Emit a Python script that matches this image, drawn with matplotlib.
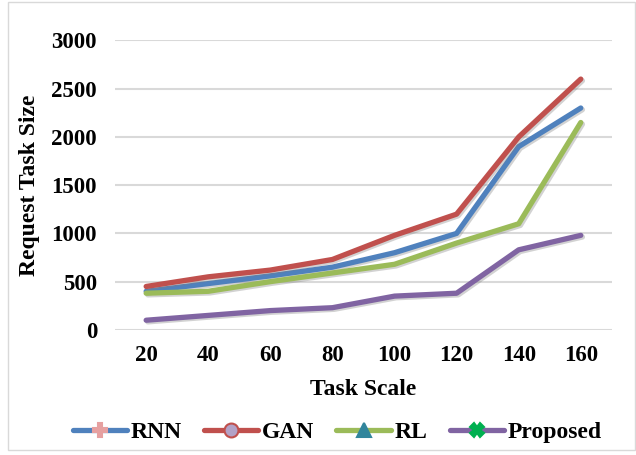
import matplotlib
matplotlib.use("Agg")
import matplotlib.pyplot as plt
import matplotlib.patheffects as pe
from matplotlib.lines import Line2D
from matplotlib.patches import Rectangle

plt.rcParams["font.family"] = ["Liberation Serif", "DejaVu Serif"]
plt.rcParams["font.weight"] = "bold"

task_scale = ["20", "40", "60", "80", "100", "120", "140", "160"]
rnn = [400, 480, 560, 650, 800, 1000, 1900, 2300]
gan = [450, 550, 620, 730, 980, 1200, 2000, 2600]
rl = [380, 400, 500, 590, 680, 900, 1100, 2150]
proposed = [100, 150, 200, 230, 350, 380, 830, 980]

series = [
    ("RNN", rnn, "#4F81BD", "P", "#E6A0A0", "#E6A0A0"),
    ("GAN", gan, "#C0504D", "o", "#B3A2C7", "#C0504D"),
    ("RL", rl, "#9BBB59", "^", "#31859C", "#31859C"),
    ("Proposed", proposed, "#8064A2", "X", "#00B050", "#00B050"),
]

fig = plt.figure(figsize=(6.36, 4.55), dpi=100)
ax = fig.add_axes([0.181, 0.275, 0.781, 0.636])

xs = list(range(len(task_scale)))
shadow = [pe.SimpleLineShadow(offset=(1.2, -1.2), shadow_color="gray", alpha=0.35),
          pe.Normal()]
for name, vals, color, *_ in series:
    ax.plot(xs, vals, color=color, lw=3.8, solid_capstyle="round",
            solid_joinstyle="round", path_effects=shadow)

ax.set_xlim(-0.5, len(task_scale) - 0.5)
ax.set_ylim(0, 3000)
ax.set_yticks(range(0, 3001, 500))
ax.set_xticks(xs)
ax.set_xticklabels(task_scale)
ax.grid(axis="y", color="#D9D9D9", lw=1.5)
ax.set_axisbelow(True)
for s in ax.spines.values():
    s.set_visible(False)
ax.tick_params(length=0, labelsize=16.5)
ax.tick_params(axis="y", pad=13)
ax.tick_params(axis="x", pad=11)
for lbl in ax.get_xticklabels() + ax.get_yticklabels():
    lbl.set_fontweight("bold")

ax.set_xlabel("Task Scale", fontsize=17, fontweight="bold", labelpad=9)
ax.set_ylabel("Request Task Size", fontsize=17, fontweight="bold", labelpad=8)

handles = [
    Line2D([], [], color=c, lw=3.8, marker=m, markerfacecolor=mf,
           markeredgecolor=me, markeredgewidth=1.5, markersize=10,
           solid_capstyle="round")
    for _, _, c, m, mf, me in series
]
fig.legend(handles, [s[0] for s in series], loc="center", bbox_to_anchor=(0.53, 0.05),
           ncol=4, frameon=False, handlelength=2.3, columnspacing=0.95,
           handletextpad=0.15, prop={"weight": "bold", "size": 17})

fig.patches.append(Rectangle((0.013, 0.01), 0.985, 0.985, transform=fig.transFigure,
                             fill=False, edgecolor="#D9D9D9", lw=1))

fig.savefig("out.png", dpi=100)
